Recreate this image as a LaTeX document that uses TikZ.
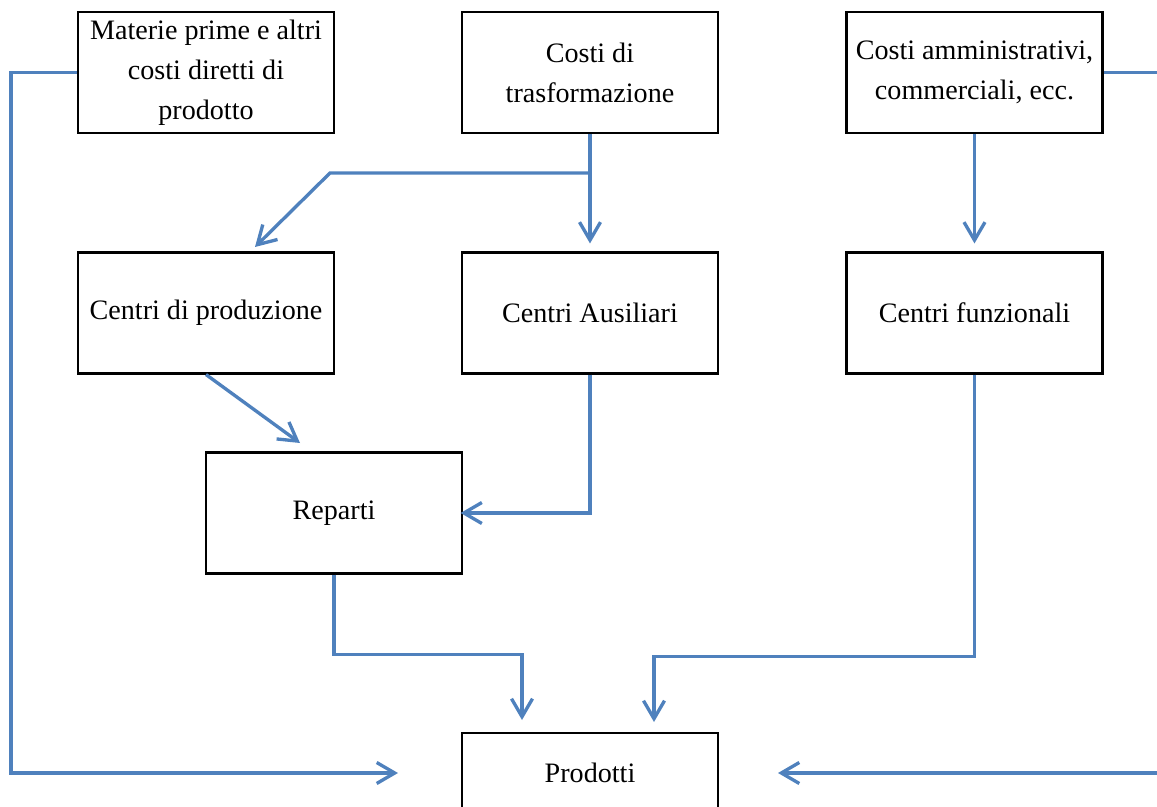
\documentclass[tikz,border=0pt]{standalone}
\usepackage{fontspec}
\setmainfont{Liberation Serif}
\usepackage{xcolor}
\usepackage{tikz}
\usetikzlibrary{arrows.meta,positioning,calc}
\definecolor{flowB}{HTML}{4F81BD}

\begin{document}
\begin{tikzpicture}[
  font=\fontsize{16}{22.8}\selectfont,
  every node/.style={align=center},
  box/.style={draw=black,line width=1.2pt,fill=white,
              minimum width=5.12cm,minimum height=2.42cm,inner sep=2pt},
  flow/.style={-{Straight Barb[length=3.6mm,width=4.2mm,line width=1.9pt]},
               line width=1.9pt,flowB}
]
\useasboundingbox (0,0) rectangle (23.14,-16.14);
\clip (0,0) rectangle (23.14,-16.14);

\node[box] (mat)  at (4.12,-1.45)   {Materie prime e altri\\costi diretti di\\prodotto};
\node[box] (tras) at (11.8,-1.45)   {Costi di\\trasformazione};
\node[box] (amm)  at (19.49,-1.45)  {Costi amministrativi,\\commerciali, ecc.};
\node[box] (cprod) at (4.12,-6.26)  {Centri di produzione};
\node[box] (aus)  at (11.8,-6.26)   {Centri Ausiliari};
\node[box] (fun)  at (19.49,-6.26)  {Centri funzionali};
\node[box] (rep)  at (6.68,-10.26)  {Reparti};
\node[box,minimum height=1.6cm] (prd) at (11.8,-15.46) {Prodotti};

% free ends and bends
\coordinate (split) at (11.8,-3.46);
\coordinate (bend)  at (6.6,-3.46);
\coordinate (tipP)  at (5.1,-4.94);
\coordinate (tipR)  at (6.0,-8.86);
\coordinate (tipL)  at (7.96,-15.46);
\coordinate (tipE)  at (15.56,-15.46);
\coordinate (tipA)  at (10.44,-14.4);
\coordinate (tipB)  at (13.08,-14.44);

\draw[flow] (tras.south) -- ([yshift=1.6mm]aus.north);
\draw[flow] (split) -- (bend) -- (tipP);
\draw[flow] (amm.south) -- ([yshift=1.6mm]fun.north);
\draw[flow] (cprod.south) -- (tipR);
\draw[flow] (aus.south) |- ([xshift=-0.5mm]rep.east);
\draw[flow] (rep.south) -- ++(0,-1.6) -| (tipA);
\draw[flow] (fun.south) -- ++(0,-5.64) -| (tipB);
\draw[flow] (mat.west) -- ++(-1.32,0) |- (tipL);
\draw[flow] (amm.east) -- ++(1.2,0) |- (tipE);
\end{tikzpicture}
\end{document}
